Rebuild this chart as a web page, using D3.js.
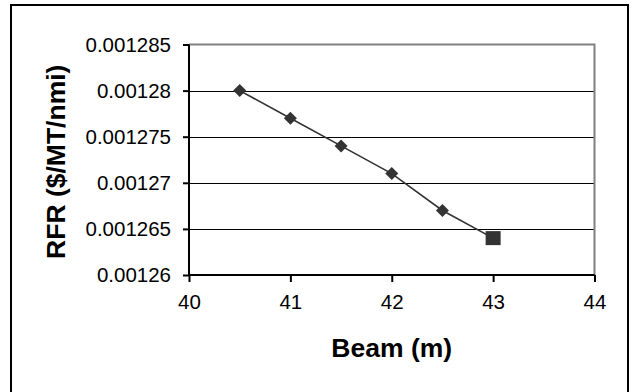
<!DOCTYPE html>
<html>
<head>
<meta charset="utf-8">
<script src="https://d3js.org/d3.v7.min.js"></script>
<style>
  html, body { margin: 0; padding: 0; background: #fff; }
  svg { display: block; font-family: "Liberation Sans", Arial, sans-serif; }
</style>
</head>
<body>
<svg id="chart" width="635" height="392"></svg>
<script>
// Data
const beam = [40.5, 41, 41.5, 42, 42.5, 43];
const rfr = [0.00128, 0.001277, 0.001274, 0.001271, 0.001267, 0.001264];
const optimumBeam = [43];
const optimumRfr = [0.001264];
const xTicks = [40, 41, 42, 43, 44];
const yTicks = [0.00126, 0.001265, 0.00127, 0.001275, 0.00128, 0.001285];
const xTitle = "Beam (m)";
const yTitle = "RFR ($/MT/nmi)";

const svg = d3.select("#chart");
const plot = { left: 189, right: 594.5, top: 44.5, bottom: 275 };

// outer frame
svg.append("rect")
  .attr("x", 11).attr("y", 5)
  .attr("width", 617).attr("height", 400)
  .attr("fill", "#fff").attr("stroke", "#000").attr("stroke-width", 2);

const x = d3.scaleLinear().domain([40, 44]).range([plot.left, plot.right]);
const y = d3.scaleLinear().domain([0.00126, 0.001285]).range([plot.bottom, plot.top]);

// gridlines
svg.append("g")
  .selectAll("line")
  .data(yTicks.slice(1, -1))
  .join("line")
  .attr("x1", plot.left).attr("x2", plot.right)
  .attr("y1", d => Math.round(y(d)) + 0.5).attr("y2", d => Math.round(y(d)) + 0.5)
  .attr("stroke", "#000").attr("stroke-width", 1);

// top and right border (gray)
svg.append("path")
  .attr("d", `M${plot.left},${plot.top}H${plot.right}V${plot.bottom}`)
  .attr("fill", "none").attr("stroke", "#808080").attr("stroke-width", 2);

// axes
const yAxis = d3.axisLeft(y).tickValues(yTicks).tickSize(6).tickPadding(12)
  .tickFormat(d => String(+d.toPrecision(6)));
const gy = svg.append("g").attr("transform", `translate(${plot.left},0)`).call(yAxis);
gy.select(".domain").attr("stroke", "#000").attr("stroke-width", 2)
  .attr("d", `M0,${plot.top}V${plot.bottom}`);
gy.selectAll(".tick line").attr("stroke", "#000").attr("stroke-width", 2);
gy.selectAll(".tick text").attr("font-size", 20.5).attr("fill", "#000")
  .attr("font-family", "'Liberation Sans', Arial, sans-serif");

const xAxis = d3.axisBottom(x).tickValues(xTicks).tickSize(7).tickPadding(12)
  .tickFormat(d3.format("d"));
const gx = svg.append("g").attr("transform", `translate(0,${plot.bottom})`).call(xAxis);
gx.select(".domain").attr("stroke", "#000").attr("stroke-width", 2)
  .attr("d", `M${plot.left},0H${plot.right}`);
gx.selectAll(".tick line").attr("stroke", "#000").attr("stroke-width", 2);
gx.selectAll(".tick text").attr("font-size", 20.5).attr("fill", "#000")
  .attr("font-family", "'Liberation Sans', Arial, sans-serif");

// line
const line = d3.line().x((d, i) => x(beam[i])).y(d => y(d));
svg.append("path")
  .datum(rfr)
  .attr("d", line)
  .attr("fill", "none").attr("stroke", "#333").attr("stroke-width", 1.6);

// diamond markers
svg.append("g")
  .selectAll("path")
  .data(rfr)
  .join("path")
  .attr("d", d3.symbol().type(d3.symbolSquare).size(84)())
  .attr("transform", (d, i) => `translate(${x(beam[i])},${y(d)}) rotate(45)`)
  .attr("fill", "#333");

// optimum square marker
svg.append("g")
  .selectAll("rect")
  .data(optimumRfr)
  .join("rect")
  .attr("x", (d, i) => x(optimumBeam[i]) - 7.5)
  .attr("y", d => y(d) - 7)
  .attr("width", 15).attr("height", 14)
  .attr("fill", "#333");

// axis titles
svg.append("text")
  .attr("x", (plot.left + plot.right) / 2)
  .attr("y", 357)
  .attr("text-anchor", "middle")
  .attr("font-size", 26.5).attr("font-weight", "bold")
  .text(xTitle);

svg.append("text")
  .attr("transform", `translate(65,${(plot.top + plot.bottom) / 2 + 2}) rotate(-90)`)
  .attr("text-anchor", "middle")
  .attr("font-size", 26.5).attr("font-weight", "bold")
  .text(yTitle);
</script>
</body>
</html>
